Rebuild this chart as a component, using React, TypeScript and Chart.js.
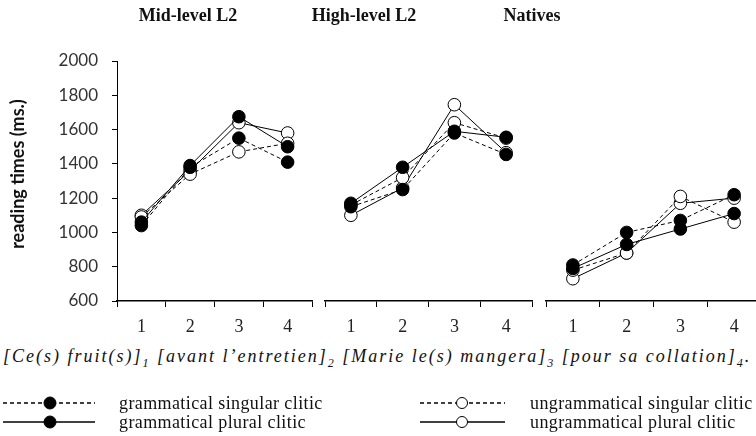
import React, { useEffect, useRef } from 'react';
import { Chart, registerables } from 'chart.js';
Chart.register(...registerables);

const categories = ['1', '2', '3', '4'];
const yTicks = [600, 800, 1000, 1200, 1400, 1600, 1800, 2000];

const panelTitles = ['Mid-level L2', 'High-level L2', 'Natives'];
const seriesNames = [
  'grammatical singular clitic',
  'grammatical plural clitic',
  'ungrammatical singular clitic',
  'ungrammatical plural clitic',
];

const midGramSing = [1040, 1380, 1550, 1410];
const midGramPlur = [1060, 1390, 1675, 1500];
const midUngramSing = [1090, 1340, 1470, 1520];
const midUngramPlur = [1100, 1360, 1640, 1580];

const highGramSing = [1150, 1250, 1580, 1455];
const highGramPlur = [1170, 1380, 1590, 1555];
const highUngramSing = [1160, 1320, 1640, 1550];
const highUngramPlur = [1100, 1260, 1745, 1465];

const natGramSing = [810, 1000, 1070, 1220];
const natGramPlur = [790, 930, 1020, 1110];
const natUngramSing = [780, 880, 1210, 1060];
const natUngramPlur = [730, 880, 1170, 1200];

const DASH = [4, 3];

function makeDatasets(gs: number[], gp: number[], us: number[], up: number[]) {
  const base = {
    borderColor: '#000',
    borderWidth: 1,
    pointRadius: 6.3,
    pointBorderColor: '#000',
    pointBorderWidth: 1,
    tension: 0,
    fill: false,
    clip: false as any,
  };
  return [
    { ...base, label: seriesNames[0], data: gs, borderDash: DASH, pointBackgroundColor: '#000' },
    { ...base, label: seriesNames[1], data: gp, pointBackgroundColor: '#000' },
    { ...base, label: seriesNames[2], data: us, borderDash: DASH, pointBackgroundColor: '#fff' },
    { ...base, label: seriesNames[3], data: up, pointBackgroundColor: '#fff' },
  ];
}

const CANVAS_H = 345;
const AREA_TOP = 61;
const AREA_BOTTOM = 301;

interface PanelProps {
  datasets: any[];
  canvasLeft: number;
  canvasWidth: number;
  areaLeft: number;
  areaRight: number;
  showY: boolean;
}

function Panel({ datasets, canvasLeft, canvasWidth, areaLeft, areaRight, showY }: PanelProps) {
  const ref = useRef<HTMLCanvasElement | null>(null);
  useEffect(() => {
    if (!ref.current) return;
    const chart = new Chart(ref.current, {
      type: 'line',
      data: { labels: categories, datasets },
      options: {
        animation: false,
        responsive: false,
        maintainAspectRatio: false,
        devicePixelRatio: 1,
        layout: {
          padding: {
            top: AREA_TOP,
            bottom: 0,
            left: showY ? 0 : areaLeft - canvasLeft,
            right: canvasLeft + canvasWidth - areaRight,
          },
        },
        plugins: { legend: { display: false }, tooltip: { enabled: false }, title: { display: false } },
        scales: {
          x: {
            type: 'category',
            offset: true,
            grid: {
              display: true,
              offset: true,
              drawOnChartArea: false,
              drawTicks: true,
              tickLength: 6,
              color: '#000',
              lineWidth: 1,
            },
            border: { display: true, color: '#000', width: 1.5 },
            ticks: {
              font: { family: 'Liberation Serif', size: 18 },
              color: '#222',
              padding: 9,
              maxRotation: 0,
            },
            afterFit: (s: any) => {
              s.height = CANVAS_H - AREA_BOTTOM;
            },
          },
          y: {
            type: 'linear',
            display: showY,
            min: 600,
            max: 2000,
            afterBuildTicks: (s: any) => {
              s.ticks = yTicks.map((v) => ({ value: v }));
            },
            grid: {
              display: true,
              drawOnChartArea: false,
              drawTicks: true,
              tickLength: 5,
              color: '#000',
            },
            border: { display: true, color: '#000', width: 1 },
            ticks: {
              font: { family: 'Lato', size: 17 },
              color: '#333',
              padding: 14,
              callback: (v: any) => String(v),
            },
            afterFit: (s: any) => {
              if (showY) s.width = areaLeft;
            },
          },
        },
      },
    });
    return () => chart.destroy();
  }, []);
  return (
    <canvas
      ref={ref}
      width={canvasWidth}
      height={CANVAS_H}
      style={{ position: 'absolute', left: canvasLeft, top: 0, width: canvasWidth, height: CANVAS_H }}
    />
  );
}

const serif = '"Liberation Serif", "Times New Roman", serif';

function LegendSample({ x1, x2, cx, y, dashed, filled }: { x1: number; x2: number; cx: number; y: number; dashed: boolean; filled: boolean }) {
  return (
    <g>
      <line x1={x1} y1={y} x2={x2} y2={y} stroke="#000" strokeWidth={1.3} strokeDasharray={dashed ? '4 3' : undefined} />
      <circle cx={cx} cy={y} r={filled ? 6 : 5.5} fill={filled ? '#000' : '#fff'} stroke="#000" strokeWidth={1} />
    </g>
  );
}

export default function App() {
  const titleStyle = (cx: number): React.CSSProperties => ({
    position: 'absolute',
    left: cx,
    top: 5,
    transform: 'translateX(-50%)',
    fontFamily: serif,
    fontWeight: 'bold',
    fontSize: 18,
    whiteSpace: 'nowrap',
    color: '#111',
  });
  const legendText = (left: number, top: number): React.CSSProperties => ({
    position: 'absolute',
    left,
    top,
    fontFamily: serif,
    fontSize: 18,
    letterSpacing: 0.4,
    whiteSpace: 'nowrap',
    color: '#111',
    lineHeight: '18px',
  });
  return (
    <div style={{ position: 'absolute', left: 0, top: 0, width: 756, height: 436, overflow: 'hidden', background: '#fff' }}>
      <Panel datasets={makeDatasets(midGramSing, midGramPlur, midUngramSing, midUngramPlur)} canvasLeft={0} canvasWidth={320} areaLeft={117} areaRight={312} showY={true} />
      <Panel datasets={makeDatasets(highGramSing, highGramPlur, highUngramSing, highUngramPlur)} canvasLeft={317} canvasWidth={223} areaLeft={325} areaRight={532} showY={false} />
      <Panel datasets={makeDatasets(natGramSing, natGramPlur, natUngramSing, natUngramPlur)} canvasLeft={538} canvasWidth={231} areaLeft={546} areaRight={761} showY={false} />

      <div style={titleStyle(188)}>{panelTitles[0]}</div>
      <div style={titleStyle(364)}>{panelTitles[1]}</div>
      <div style={titleStyle(532)}>{panelTitles[2]}</div>

      <div
        style={{
          position: 'absolute',
          left: 17,
          top: 174,
          transform: 'translate(-50%, -50%) rotate(-90deg)',
          fontFamily: 'Lato, sans-serif',
          fontWeight: 'bold',
          fontSize: 18,
          whiteSpace: 'nowrap',
          color: '#111',
        }}
      >
        reading times (ms.)
      </div>

      <div
        style={{
          position: 'absolute',
          left: 3,
          top: 346,
          fontFamily: serif,
          fontStyle: 'italic',
          fontSize: 18,
          letterSpacing: 2.0,
          whiteSpace: 'nowrap',
          color: '#111',
        }}
      >
        [Ce(s) fruit(s)]<sub style={{ fontSize: 12 }}>1</sub> [avant l’entretien]<sub style={{ fontSize: 12 }}>2</sub> [Marie le(s) mangera]<sub style={{ fontSize: 12 }}>3</sub> [pour sa collation]<sub style={{ fontSize: 12 }}>4</sub>.
      </div>

      <svg width={756} height={436} style={{ position: 'absolute', left: 0, top: 0 }}>
        <LegendSample x1={3} x2={95} cx={50} y={403} dashed={true} filled={true} />
        <LegendSample x1={3} x2={95} cx={50} y={422} dashed={false} filled={true} />
        <LegendSample x1={420} x2={505} cx={462} y={403} dashed={true} filled={false} />
        <LegendSample x1={420} x2={505} cx={462} y={422} dashed={false} filled={false} />
      </svg>
      <div style={legendText(119, 394)}>{seriesNames[0]}</div>
      <div style={legendText(119, 413)}>{seriesNames[1]}</div>
      <div style={legendText(530, 394)}>{seriesNames[2]}</div>
      <div style={legendText(530, 413)}>{seriesNames[3]}</div>
    </div>
  );
}
